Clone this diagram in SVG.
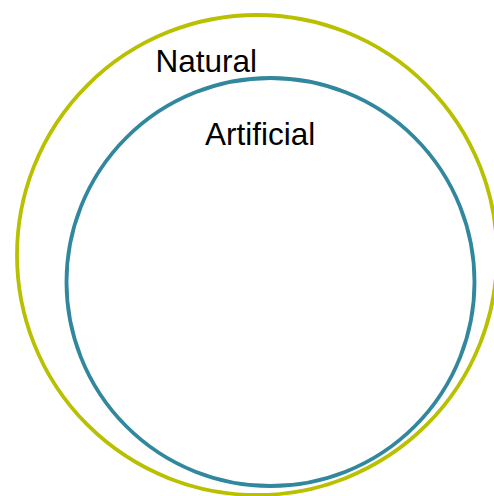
<svg xmlns="http://www.w3.org/2000/svg" width="494" height="496" viewBox="0 0 494 496">
<style>
.lbl{font-family:"Liberation Sans",Arial,sans-serif;font-size:31.5px;fill:#000}
.ring{fill:none;stroke-width:3.8}
</style>
<rect width="494" height="496" fill="#fff"/>
<g id="natural">
<circle class="ring" cx="257" cy="255" r="240" stroke="#b9c000"/>
<text class="lbl" x="155.5" y="72">Natural</text>
</g>
<g id="artificial">
<circle class="ring" cx="270.5" cy="282" r="204" stroke="#31889e"/>
<text class="lbl" x="205" y="145">Artificial</text>
</g>
<g id="connectors"/>
</svg>
